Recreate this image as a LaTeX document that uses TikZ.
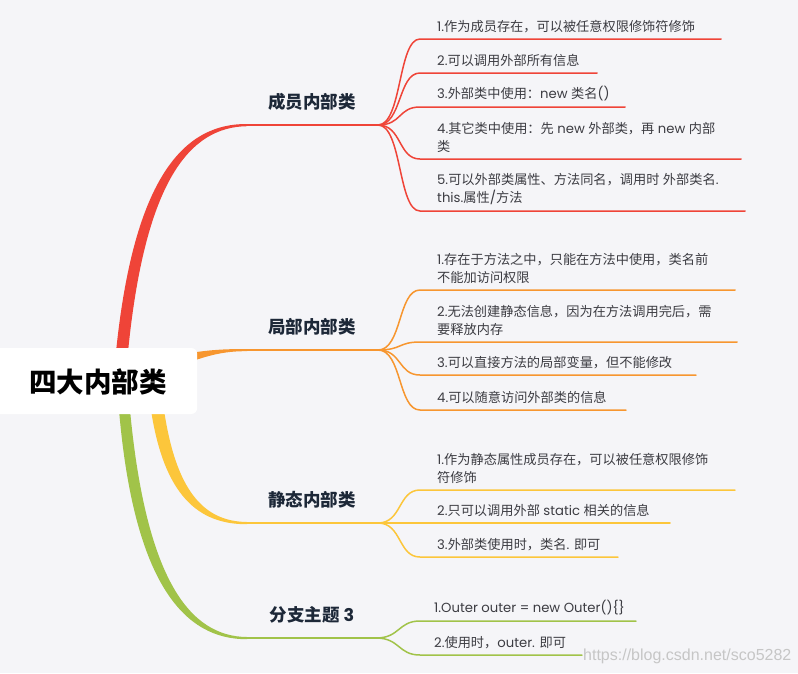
\documentclass[tikz,border=0pt]{standalone}
\usepackage{fontspec}
\setmainfont{Poppins}
\newfontfamily\lat{Poppins}
\newfontfamily\cjk{Noto Sans CJK SC}
\newfontfamily\wmfont{Liberation Sans}
\XeTeXinterchartokenstate=1
\newXeTeXintercharclass\cjkcls
\makeatletter
\count@="3000 \loop \XeTeXcharclass\count@=\cjkcls \ifnum\count@<"303F \advance\count@ 1 \repeat
\count@="4E00 \loop \XeTeXcharclass\count@=\cjkcls \ifnum\count@<"9FFF \advance\count@ 1 \repeat
\count@="FF00 \loop \XeTeXcharclass\count@=\cjkcls \ifnum\count@<"FFEF \advance\count@ 1 \repeat
\makeatother
\XeTeXinterchartoks 0 \cjkcls = {\cjk}
\XeTeXinterchartoks 4095 \cjkcls = {\cjk}
\XeTeXinterchartoks \cjkcls 0 = {\lat}
\XeTeXinterchartoks \cjkcls 4095 = {\lat}
\definecolor{bg}{RGB}{245,245,248}
\definecolor{cred}{RGB}{239,68,56}
\definecolor{corange}{RGB}{247,150,47}
\definecolor{cyellow}{RGB}{252,198,59}
\definecolor{cgreen}{RGB}{161,195,73}
\definecolor{leaftxt}{RGB}{60,60,66}
\definecolor{labtxt}{RGB}{29,40,56}
\tikzset{
  leaf/.style={anchor=south west, inner xsep=0pt, inner ysep=6pt, text=leaftxt,
    font=\fontsize{13.2}{18}\selectfont, align=left, xshift=17pt},
  leafline/.style={line width=1.5pt, line cap=round},
  branchlab/.style={font=\fontsize{17.5}{20}\selectfont\bfseries, text=labtxt},
  trunk/.style={line width=2pt},
}
\begin{document}
\begin{tikzpicture}[x=1pt,y=-1pt]
\fill[bg] (0,0) rectangle (798,673);
\useasboundingbox (0,0) rectangle (798,673);

% tapered main branches
\fill[cred] (116,352) .. controls (134,175) and (185,123.5) .. (247,124) -- (247,126.2) .. controls (190,127) and (145,180) .. (128,352) -- cycle;
\fill[corange] (190,353) .. controls (212,349.5) and (228,349) .. (247,349) -- (247,351.2) .. controls (228,351) and (212,354) .. (190,362) -- cycle;
\fill[cyellow] (151,410) .. controls (164,495) and (198,524.5) .. (247,524.2) -- (247,522) .. controls (203,521.5) and (176,490) .. (164,410) -- cycle;
\fill[cgreen] (119,410) .. controls (134,585) and (185,639.5) .. (247,639.2) -- (247,637) .. controls (190,636.5) and (146,580) .. (130,410) -- cycle;

% root
\node[fill=white, rounded corners=6pt, minimum width=210pt, minimum height=66pt, anchor=west,
  font=\fontsize{27.5}{30}\selectfont\bfseries, text=black, text depth=0pt] (root) at (-13,381) {\hspace{12pt}四大内部类};

% trunks
\coordinate (s1) at (247,125); \coordinate (f1) at (378,125);
\coordinate (s2) at (247,350); \coordinate (f2) at (378,350);
\coordinate (s3) at (247,523); \coordinate (f3) at (378,523);
\coordinate (s4) at (247,638); \coordinate (f4) at (376,638);
\draw[trunk, cred] (s1) -- (f1);
\draw[trunk, corange] (s2) -- (f2);
\draw[trunk, cyellow] (s3) -- (f3);
\draw[trunk, cgreen] (s4) -- (f4);

\node[branchlab] (b1) at (312,102) {成员内部类};
\node[branchlab] (b2) at (312,327) {局部内部类};
\node[branchlab] (b3) at (312,500) {静态内部类};
\node[branchlab] (b4) at (312,615) {分支主题 3};

% leaves: red
\node[leaf] (r1) at (420,39) {1.作为成员存在，可以被任意权限修饰符修饰};
\node[leaf] (r2) at (420,73) {2.可以调用外部所有信息};
\node[leaf] (r3) at (420,107) {3.外部类中使用：new 类名()};
\node[leaf] (r4) at (420,159) {4.其它类中使用：先 new 外部类，再 new 内部\\类};
\node[leaf] (r5) at (420,211) {5.可以外部类属性、方法同名，调用时 外部类名.\\this.属性/方法};
\coordinate (r1e) at (721,39);
\coordinate (r2e) at (597,73);
\coordinate (r3e) at (625,107);
\coordinate (r4e) at (741,159);
\coordinate (r5e) at (745,211);
\foreach \n in {1,...,5}{
  \draw[leafline, cred] (f1) .. controls +(24,0) and +(-22,0) .. ([xshift=-17pt]r\n.south west) -- (r\n e);
}

% leaves: orange
\node[leaf] (o1) at (420,290) {1.存在于方法之中，只能在方法中使用，类名前\\不能加访问权限};
\node[leaf] (o2) at (420,342) {2.无法创建静态信息，因为在方法调用完后，需\\要释放内存};
\node[leaf] (o3) at (420,375) {3.可以直接方法的局部变量，但不能修改};
\node[leaf] (o4) at (420,410) {4.可以随意访问外部类的信息};
\coordinate (o1e) at (735,290);
\coordinate (o2e) at (737,342);
\coordinate (o3e) at (696,375);
\coordinate (o4e) at (626,410);
\foreach \n in {1,...,4}{
  \draw[leafline, corange] (f2) .. controls +(24,0) and +(-22,0) .. ([xshift=-17pt]o\n.south west) -- (o\n e);
}

% leaves: yellow
\node[leaf] (y1) at (420,490) {1.作为静态属性成员存在，可以被任意权限修饰\\符修饰};
\node[leaf] (y2) at (420,523) {2.只可以调用外部 static 相关的信息};
\node[leaf] (y3) at (420,557) {3.外部类使用时，类名. 即可};
\coordinate (y1e) at (735,490);
\coordinate (y2e) at (670,523);
\coordinate (y3e) at (618,557);
\foreach \n in {1,...,3}{
  \draw[leafline, cyellow] (f3) .. controls +(24,0) and +(-22,0) .. ([xshift=-17pt]y\n.south west) -- (y\n e);
}

% leaves: green
\node[leaf, xshift=-3pt] (g1) at (420,621) {1.Outer outer = new Outer()\{\}};
\node[leaf, xshift=-3pt] (g2) at (420,655) {2.使用时，outer. 即可};
\coordinate (g1e) at (636,621);
\coordinate (g2e) at (582,655);
\foreach \n in {1,2}{
  \draw[leafline, cgreen] (f4) .. controls +(24,0) and +(-22,0) .. ([xshift=-14pt]g\n.south west) -- (g\n e);
}

% watermark
\node[anchor=base west, font=\wmfont\fontsize{16}{18}\selectfont, text=gray!45, inner sep=0pt] (wm) at (583,660) {https://blog.csdn.net/sco5282};
\end{tikzpicture}
\end{document}
